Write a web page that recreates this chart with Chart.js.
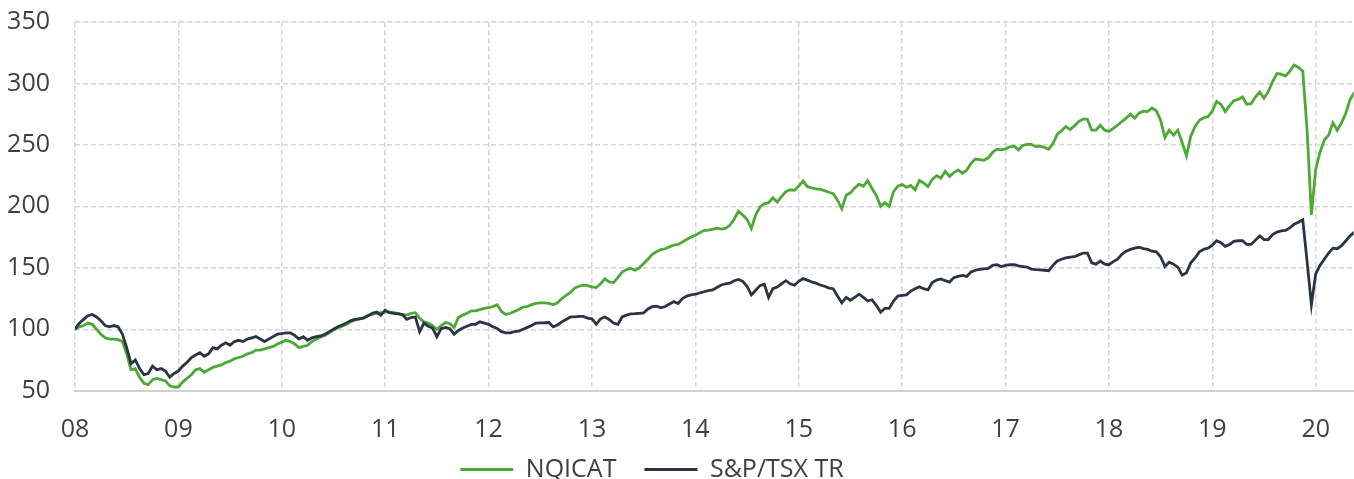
<!DOCTYPE html>
<html>
<head>
<meta charset="utf-8">
<script src="https://cdn.jsdelivr.net/npm/chart.js@4.4.1/dist/chart.umd.min.js"></script>
<style>
  html, body { margin: 0; padding: 0; background: #fff; overflow: hidden; }
</style>
</head>
<body>
<canvas id="chart" width="1354" height="492"></canvas>
<script>
// x axis: two-digit years, one data point every half month from the start of 08
const yearLabels = ['08', '09', '10', '11', '12', '13', '14', '15', '16', '17', '18', '19', '20'];
const FIRST_YEAR = 8;
const POINTS_PER_YEAR = 24;

const nqicat = [
  100, 102, 103, 105, 104, 100, 96, 93, 92, 92, 91.5, 90, 80, 67, 68, 61, 56, 55, 59, 60, 59, 58, 54, 53,
  53, 57, 60, 63, 67, 68, 65, 67, 69, 70, 71, 73, 74, 76, 77, 78, 80, 81, 83, 83, 84, 85, 86, 88,
  89.5, 91, 90, 88, 85, 86, 87, 90, 92, 93.5, 95, 97, 99.5, 101, 102.5, 104, 106, 107.5, 108.5, 109.5, 111, 112, 113, 113.5,
  114, 114, 113.5, 113, 112, 111.5, 113, 113.5, 109, 106, 105, 103, 100, 103, 105.5, 104.5, 101.5, 109.5, 111.5, 113, 115, 115, 116, 117,
  117.5, 118.5, 120, 114.5, 112, 113, 114.5, 116, 118, 118.5, 120, 121, 121.5, 121.5, 121, 120, 121.5, 125, 127.5, 130, 133.5, 135, 135.9, 135.5,
  134.5, 134, 137, 141, 138.5, 138, 142, 146.5, 148.5, 149.5, 148, 150, 153.5, 157, 161, 163, 164.8, 165.5, 167, 168.5, 169, 171, 173, 175,
  176.4, 178.5, 180.3, 180.7, 181.2, 182.3, 181.5, 182, 184.6, 189.5, 196, 193, 189.5, 182, 193, 199.5, 202, 203, 207, 203.5, 208, 212, 213.5, 213,
  216.5, 220.6, 216, 215, 214.2, 213.8, 212.8, 211.5, 210.3, 205, 198, 209, 211, 215, 218, 216.3, 221, 214.5, 209, 200, 203, 200, 212, 216.5,
  217.8, 215.6, 217, 213.5, 221, 219, 216, 222, 225, 223, 228.5, 224.3, 227.5, 229.7, 227, 229.5, 235, 238.5, 238, 237.5, 239.5, 244, 246.5, 246,
  246.7, 248.5, 249, 246, 249.5, 250.5, 250.5, 248.6, 249, 248, 246.5, 251, 258.5, 261.5, 265, 262.5, 265.5, 269, 271, 271, 262, 262, 266, 262,
  261, 263.5, 266, 269, 271.8, 275, 271.8, 276, 277.5, 277.2, 280, 277.8, 270, 256, 262, 258, 262, 252, 241, 257, 265, 270, 272, 273,
  277.5, 285.5, 283, 277, 282, 286, 287, 289, 283, 283.5, 289, 293, 288, 293.5, 301.5, 308, 307.5, 306, 310, 315, 313, 310, 262, 193,
  230, 244, 254, 258, 268, 262, 268, 276, 287, 293
];

const tsx = [
  100, 105, 108, 111, 112, 110, 107, 103, 102, 103, 102, 96, 85, 72, 75, 68, 63, 64, 70, 67, 68, 66, 61, 64,
  66, 70, 73, 77, 79, 81, 78, 80, 85, 84, 87, 89, 87, 90, 91, 90, 92, 93, 94, 92, 90, 92, 94, 96,
  96.5, 97, 97, 95, 92, 94, 91, 93, 94, 94.5, 96, 98, 100, 102, 103.5, 105, 107, 108, 108.5, 109, 111, 113, 114, 111.5,
  115.5, 113.5, 113, 112.5, 112, 108, 109.5, 110, 98, 105, 102.5, 101, 94, 100.5, 101.5, 100.5, 96, 99, 101, 102.5, 104, 104, 106, 105,
  104, 102, 100.7, 98, 97, 97, 98, 98.5, 100, 101.5, 103, 105, 105.2, 105.3, 105.5, 102, 103.5, 106, 108, 110, 110, 110.5, 110.5, 109,
  108.5, 104, 108.5, 110, 108, 105, 104, 110, 111.5, 112.5, 112.7, 113, 113.3, 116.5, 118.5, 118.7, 117.5, 118.5, 120.5, 122.5, 121, 125, 127, 128,
  128.5, 129.5, 130.5, 131.5, 132, 134, 136, 137, 137.5, 139.5, 140.5, 139, 135, 128, 131.7, 135.5, 136.6, 126, 133, 134.4, 137, 139.5, 137, 135.8,
  139, 141.2, 140, 138.5, 137.5, 136, 135, 133.5, 133, 127, 121.5, 126, 123.6, 126, 128.5, 126, 123, 124, 119.5, 114, 117, 117, 123, 127,
  127.5, 128, 131, 133, 134.5, 133, 132, 138, 140, 141, 139.5, 138.4, 142, 143, 143.8, 143, 146.6, 148, 148.8, 149.2, 149.5, 152, 152.5, 151,
  152, 152.5, 152.5, 151.5, 151, 150.5, 149, 148.6, 148.3, 148, 147.6, 152, 155.5, 157, 158, 158.7, 159, 160.5, 162, 162, 154, 153, 155.5, 153,
  152.5, 155, 157, 161, 163.5, 165, 166, 166.7, 165.6, 165, 163.5, 163, 159, 151, 154.5, 153, 150.5, 144, 146, 154, 158, 163, 165, 166,
  168.5, 172, 170.5, 167.5, 169, 171.5, 172, 172, 169, 169, 172.5, 176, 173, 173, 177, 179, 180, 180.5, 182.5, 185.5, 187, 189, 155, 120,
  145, 152, 157, 162, 166, 165.5, 168, 172, 176, 179
];

const dates = nqicat.map((_, i) => FIRST_YEAR + i / POINTS_PER_YEAR);

const GREEN = '#4ca935';
const NAVY = '#2a3443';
const TEXT = '#404040';
const GRID = '#d6d6d6';
const FONT = { family: "'Open Sans', 'Noto Sans', sans-serif", size: 25 };

const toPoints = (values) => values.map((v, i) => ({ x: dates[i], y: v }));

// the legend sits a little left of the canvas centre in the original
const nudgeLegend = {
  id: 'nudgeLegend',
  afterLayout(chart) {
    if (chart.legend) chart.legend.right -= 50;
  },
};

new Chart(document.getElementById('chart'), {
  type: 'line',
  data: {
    datasets: [
      {
        label: 'S&P/TSX TR',
        data: toPoints(tsx),
        borderColor: NAVY,
        backgroundColor: NAVY,
        borderWidth: 2.8,
        pointRadius: 0,
        fill: false,
      },
      {
        label: 'NQICAT',
        data: toPoints(nqicat),
        borderColor: GREEN,
        backgroundColor: GREEN,
        borderWidth: 2.8,
        pointRadius: 0,
        fill: false,
      },
    ],
  },
  options: {
    responsive: false,
    animation: false,
    layout: { padding: { top: 22, left: 0, right: 0, bottom: 0 } },
    plugins: {
      tooltip: { enabled: false },
      legend: {
        position: 'bottom',
        labels: {
          usePointStyle: true,
          pointStyle: 'line',
          pointStyleWidth: 53,
          padding: 28,
          color: TEXT,
          font: FONT,
          sort: (a, b) => b.datasetIndex - a.datasetIndex,
        },
      },
    },
    scales: {
      x: {
        type: 'linear',
        min: FIRST_YEAR,
        max: 20.367,
        ticks: {
          stepSize: 1,
          includeBounds: false,
          autoSkip: false,
          maxRotation: 0,
          padding: 24,
          color: TEXT,
          font: FONT,
          callback: (v) => yearLabels[Math.round(v - FIRST_YEAR)],
        },
        grid: { color: GRID, lineWidth: 1.5, drawTicks: false },
        border: { display: true, color: '#d0d0d0', width: 2, dash: [5, 3] },
        afterFit: (scale) => {
          scale.height = 38.3;
          // let the year labels run below the short axis box instead of being cut off
          scale._computeLabelArea = () => undefined;
        },
      },
      y: {
        min: 50,
        max: 350,
        ticks: { stepSize: 50, padding: 25, color: TEXT, font: FONT },
        grid: { color: GRID, lineWidth: 1.5, drawTicks: false },
        border: { display: false, dash: [5, 3] },
        afterFit: (scale) => {
          scale.width = 75;
          // the tick padding is horizontal here; do not reserve it above and below
          scale.paddingTop = 0;
          scale.paddingBottom = 0;
        },
      },
    },
  },
  plugins: [nudgeLegend],
});
</script>
</body>
</html>
